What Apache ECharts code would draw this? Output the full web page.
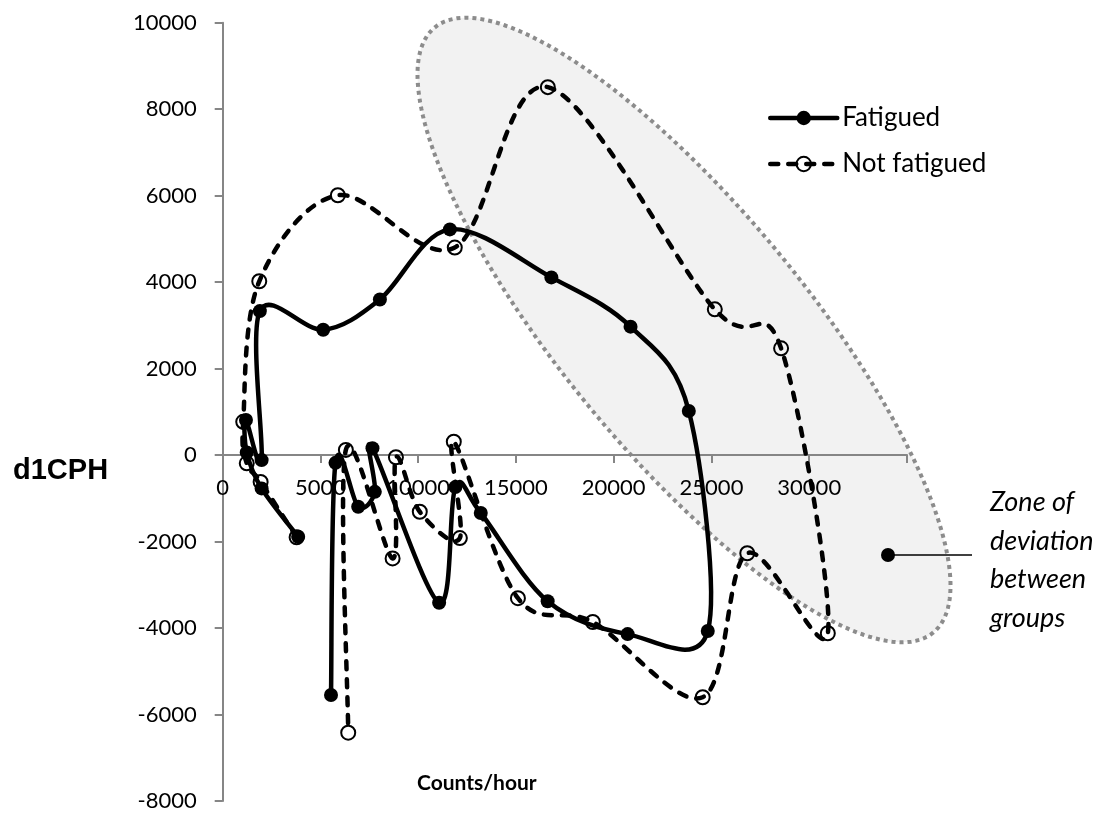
<!DOCTYPE html>
<html>
<head>
<meta charset="utf-8">
<script src="https://cdn.jsdelivr.net/npm/echarts@6/dist/echarts.min.js"></script>
<style>
html,body{margin:0;padding:0;background:#fff;}
#chart{width:1108px;height:814px;}
</style>
</head>
<body>
<div id="chart"></div>
<script>
// ---- data ----
var seriesNames = ['Fatigued', 'Not fatigued'];
var fatiguedX = [3860, 1990, 1230, 1190, 1990, 1900, 5140, 8040, 11620, 16810, 20860, 23840, 24810, 20710, 16620, 13200, 11900, 11070, 7660, 7780, 6930, 5770, 5540];
var fatiguedY = [-1890, -770, 60, 810, -116, 3330, 2900, 3600, 5220, 4110, 2970, 1020, -4070, -4140, -3380, -1340, -740, -3415, 160, -850, -1195, -180, -5550];
var notFatiguedX = [3780, 1940, 1230, 1050, 1870, 5890, 11870, 16630, 25170, 28560, 30950, 26830, 24550, 18930, 15100, 11820, 12130, 10080, 8860, 8690, 6300, 6420];
var notFatiguedY = [-1900, -620, -190, 770, 4020, 6010, 4800, 8510, 3370, 2470, -4120, -2270, -5600, -3860, -3310, 310, -1920, -1310, -50, -2390, 120, -6420];
var xTicks = [0, 5000, 10000, 15000, 20000, 25000, 30000];
var yTicks = [-8000, -6000, -4000, -2000, 0, 2000, 4000, 6000, 8000, 10000];
var xAxisTitle = 'Counts/hour';
var yAxisTitle = 'd1CPH';
var zoneLabel = ['Zone of', 'deviation', 'between', 'groups'];

var X_MIN = 0, X_MAX = 35000, Y_MIN = -8000, Y_MAX = 10000;

function pairs(xs, ys) { return xs.map(function (x, i) { return [x, ys[i]]; }); }
var fatiguedData = pairs(fatiguedX, fatiguedY);
var notFatiguedData = pairs(notFatiguedX, notFatiguedY);

// Excel-style smoothed curve (Catmull-Rom -> cubic Bezier) through pixel points
function smoothPath(pts) {
  var d = 'M' + pts[0][0] + ',' + pts[0][1];
  for (var i = 0; i < pts.length - 1; i++) {
    var p0 = pts[Math.max(i - 1, 0)], p1 = pts[i], p2 = pts[i + 1], p3 = pts[Math.min(i + 2, pts.length - 1)];
    var c1x = p1[0] + (p2[0] - p0[0]) / 6, c1y = p1[1] + (p2[1] - p0[1]) / 6;
    var c2x = p2[0] - (p3[0] - p1[0]) / 6, c2y = p2[1] - (p3[1] - p1[1]) / 6;
    d += 'C' + c1x + ',' + c1y + ',' + c2x + ',' + c2y + ',' + p2[0] + ',' + p2[1];
  }
  return d;
}
function curveRenderer(allData, dash, width) {
  return function (params, api) {
    if (params.dataIndex !== 0) return null;
    var pts = allData.map(function (p) { return api.coord(p); });
    return {
      type: 'path',
      shape: { pathData: smoothPath(pts) },
      style: { fill: 'none', stroke: '#000', lineWidth: width, lineDash: dash, lineCap: dash ? 'round' : 'butt', lineJoin: 'round' }
    };
  };
}

// annotation ellipse (pixel geometry)
function ellipsePoints(cx, cy, a, b, deg, n) {
  var t = deg * Math.PI / 180, pts = [];
  for (var i = 0; i < n; i++) {
    var s = 2 * Math.PI * i / n;
    var ex = a * Math.cos(s), ey = b * Math.sin(s);
    pts.push([cx + ex * Math.cos(t) - ey * Math.sin(t), cy + ex * Math.sin(t) + ey * Math.cos(t)]);
  }
  return pts;
}

var W = 1108, H = 814;
var GRID = { left: 222.7, right: 201, top: 22.7, bottom: 13 };
var plotH = H - GRID.top - GRID.bottom;
// move the x axis up so that it crosses the y axis at 0
var xAxisOffset = -plotH * (0 - Y_MIN) / (Y_MAX - Y_MIN);

var FONT = 'Lato, "Open Sans", sans-serif';
var AXIS_GRAY = '#868686';
var DASH = [8, 10];
var chart = echarts.init(document.getElementById('chart'));

var graphics = [
  { type: 'polygon', z: -1, silent: true,
    shape: { points: ellipsePoints(684, 330, 392, 122, 50.5, 200) },
    style: { fill: '#f2f2f2', stroke: '#8c8c8c', lineWidth: 4, lineDash: [4, 4] } },
  { type: 'text', left: 13, top: 456,
    style: { text: yAxisTitle, font: 'bold 29px "Liberation Sans", Arial, sans-serif', fill: '#000' } },
  { type: 'text', left: 417, top: 773,
    style: { text: xAxisTitle, font: 'bold 21px ' + FONT, fill: '#000' } },
  { type: 'line', shape: { x1: 888, y1: 555, x2: 972, y2: 555 }, style: { stroke: '#000', lineWidth: 1.5 } },
  { type: 'circle', shape: { cx: 888, cy: 555, r: 7 }, style: { fill: '#000' } }
];
zoneLabel.forEach(function (t, i) {
  graphics.push({ type: 'text', left: 990, top: 489 + i * 38.5,
    style: { text: t, font: 'italic 27px ' + FONT, fill: '#000' } });
});

chart.setOption({
  animation: false,
  backgroundColor: '#fff',
  grid: { left: GRID.left, right: GRID.right, top: GRID.top, bottom: GRID.bottom,
    containLabel: false, outerBoundsMode: 'none' },
  legend: {
    data: seriesNames,
    orient: 'vertical', left: 763, top: 100,
    itemWidth: 67, itemHeight: 18, itemGap: 20,
    lineStyle: { width: 4.5, opacity: 1, color: '#000', cap: 'round' },
    textStyle: { fontFamily: FONT, fontSize: 26, color: '#000', lineHeight: 26, height: 26 }
  },
  xAxis: {
    type: 'value', min: X_MIN, max: X_MAX, interval: 5000,
    position: 'bottom', offset: xAxisOffset,
    axisLine: { onZero: false, lineStyle: { color: AXIS_GRAY, width: 2 } },
    axisTick: { show: true, length: 8, lineStyle: { color: AXIS_GRAY, width: 2 } },
    splitLine: { show: false },
    axisLabel: { fontFamily: FONT, fontSize: 22, color: '#000', margin: 22,
      formatter: function (v) { return xTicks.indexOf(v) >= 0 ? String(v) : ''; } }
  },
  yAxis: {
    type: 'value', min: Y_MIN, max: Y_MAX, interval: 2000,
    axisLine: { show: true, onZero: false, lineStyle: { color: AXIS_GRAY, width: 2 } },
    axisTick: { show: true, length: 8, lineStyle: { color: AXIS_GRAY, width: 2 } },
    splitLine: { show: false },
    axisLabel: { fontFamily: FONT, fontSize: 22, color: '#000', margin: 26,
      formatter: function (v) { return yTicks.indexOf(v) >= 0 ? String(v) : ''; } }
  },
  graphic: graphics,
  series: [
    { name: 'Not fatigued curve', type: 'custom', coordinateSystem: 'cartesian2d',
      data: notFatiguedData, encode: { x: 0, y: 1 }, z: 2, silent: true,
      renderItem: curveRenderer(notFatiguedData, DASH, 4.5) },
    { name: 'Fatigued curve', type: 'custom', coordinateSystem: 'cartesian2d',
      data: fatiguedData, encode: { x: 0, y: 1 }, z: 3, silent: true,
      renderItem: curveRenderer(fatiguedData, null, 4.5) },
    { name: seriesNames[1], type: 'line', data: notFatiguedData,
      symbol: 'circle', symbolSize: 14, showAllSymbol: true, z: 4,
      lineStyle: { color: '#000', width: 4.5, type: DASH, opacity: 0, cap: 'round' },
      itemStyle: { color: 'rgba(255,255,255,0)', borderColor: '#000', borderWidth: 2 } },
    { name: seriesNames[0], type: 'line', data: fatiguedData,
      symbol: 'circle', symbolSize: 14, showAllSymbol: true, z: 5,
      lineStyle: { color: '#000', width: 4.5, type: 'solid', opacity: 0 },
      itemStyle: { color: '#000', borderColor: '#000', borderWidth: 0 } }
  ]
});
</script>
</body>
</html>
